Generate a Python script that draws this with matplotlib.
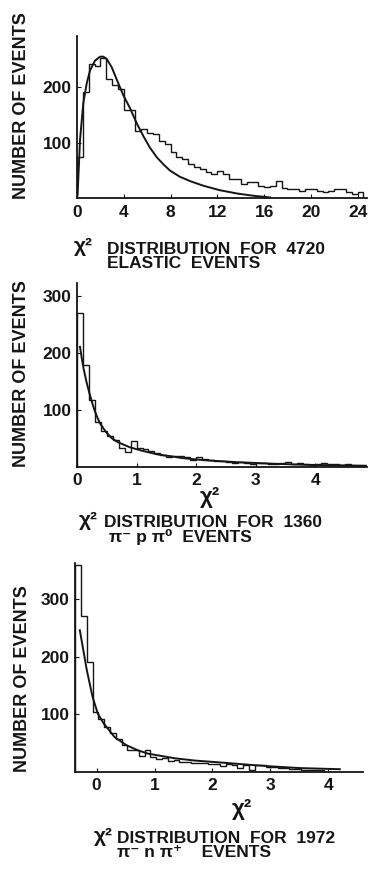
import numpy as np
import matplotlib
matplotlib.use("Agg")
import matplotlib.pyplot as plt

# --- elastic events (top), bins of 0.5 starting at 0
el_start = 0.0
el_width = 0.5
el_counts = [75, 192, 242, 238, 252, 215, 205, 198, 160, 160, 122, 125, 119, 116,
             104, 98, 84, 75, 71, 63, 57, 54, 48, 45, 51, 45, 36, 36, 27, 31, 31,
             24, 21, 24, 33, 20, 18, 18, 15, 18, 19, 15, 12, 15, 18, 18, 12, 9, 12]
el_fit_x = [0.05, 0.26, 0.54, 0.83, 1.11, 1.54, 1.97, 2.25, 2.54, 2.97, 3.54, 3.96,
            4.53, 5.1, 5.67, 6.24, 6.82, 7.4, 7.96, 8.8, 9.7, 10.8, 12.2, 13.7, 15.1, 16.5]
el_fit_y = [8, 107, 172, 207, 230, 248, 255, 255, 251, 236, 207, 186,
            163, 136, 113, 92, 75, 62, 51, 40, 32, 24, 16, 10, 6, 3]

# --- pi- p pi0 events (middle), bins of 0.1 starting at 0
pp_start = 0.0
pp_width = 0.1
pp_counts = [270, 178, 117, 78, 63, 53, 47, 32, 25, 44,
             33, 30, 27, 24, 21, 16, 19, 18, 16, 12,
             16, 13, 11, 9, 10, 8, 7, 8, 6, 5,
             6, 7, 5, 4, 7, 8, 4, 7, 4, 3,
             5, 6, 4, 5, 3, 4, 3, 2, 2]
pp_fit_x = [0.05, 0.08, 0.11, 0.16, 0.21, 0.26, 0.30, 0.35, 0.39, 0.49, 0.58, 0.68,
            0.88, 1.08, 1.36, 1.58, 1.75, 2.14, 2.70, 3.26, 3.82, 4.4, 4.85]
pp_fit_y = [210, 190, 172, 148, 128, 110, 97, 84, 75, 60, 50, 43,
            34, 28, 21, 18, 15, 11, 7.5, 5, 3, 2, 1]

# --- pi- n pi+ events (bottom), bins of 0.1 starting at -0.37
pn_start = -0.37
pn_width = 0.1
pn_counts = [360, 270, 190, 104, 91, 78, 67, 57, 46, 38, 37, 27, 38, 26, 22, 24, 19,
             20, 17, 16, 15, 15, 14, 13, 13, 9, 13, 12, 6, 11, 3, 12, 11,
             8, 8, 6, 6, 5, 4, 3, 2, 3, 2]
pn_fit_x = [-0.29, -0.22, -0.17, -0.07, 0.02, 0.12, 0.31, 0.51, 0.71, 0.89,
            1.18, 1.35, 1.7, 2.1, 2.6, 3.0, 3.5, 4.2]
pn_fit_y = [246, 206, 177, 130, 101, 84, 60, 46, 37, 31,
            26, 23, 19, 16, 12, 9, 6, 4]

W, H = 369, 869
ink = "#151515"

plt.rcParams['font.family'] = ['Liberation Sans', 'DejaVu Sans']
plt.rcParams['font.weight'] = 'bold'

fig = plt.figure(figsize=(W / 100, H / 100), dpi=100)
fig.patch.set_facecolor('white')


def box(left, top, right, bottom):
    return [left / W, 1 - bottom / H, (right - left) / W, (bottom - top) / H]


def panel(rect, counts, start, width, fit_x, fit_y, xlim, ylim, xticks, yticks):
    ax = fig.add_axes(rect)
    edges = start + width * np.arange(len(counts) + 1)
    ax.stairs(counts, edges, color=ink, lw=1.0)
    ax.plot(fit_x, fit_y, color=ink, lw=1.4)
    ax.set_xlim(*xlim)
    ax.set_ylim(*ylim)
    for s in ['top', 'right']:
        ax.spines[s].set_visible(False)
    for s in ['left', 'bottom']:
        ax.spines[s].set_linewidth(1.3)
        ax.spines[s].set_color(ink)
    ax.set_xticks(xticks)
    ax.set_yticks(yticks)
    ax.tick_params(direction='in', length=3, width=0.8, colors=ink, labelsize=12.5)
    ax.tick_params(axis='x', pad=5)
    ax.tick_params(axis='y', pad=4)
    ax.set_facecolor('none')
    return ax


def txt(x, y, s, size=12.5, rot=0, ha='left', va='baseline', ls=0.92):
    fig.text(x / W, 1 - y / H, s, fontsize=size, rotation=rot, ha=ha, va=va,
             weight='bold', color=ink, linespacing=ls)


# top panel
panel(box(77, 36, 367, 198), el_counts, el_start, el_width, el_fit_x, el_fit_y,
      (0, 24.8), (2, 292), [0, 4, 8, 12, 16, 20, 24], [100, 200])
txt(22, 106, "NUMBER OF EVENTS", size=13, rot=90, ha='center', va='center')
txt(74, 252, "χ²", size=15)
txt(107, 268, "DISTRIBUTION  FOR  4720\nELASTIC  EVENTS")

# middle panel
panel(box(77, 283, 367, 466.5), pp_counts, pp_start, pp_width, pp_fit_x, pp_fit_y,
      (0, 4.87), (0, 322), [0, 1, 2, 3, 4], [100, 200, 300])
txt(22, 374, "NUMBER OF EVENTS", size=13, rot=90, ha='center', va='center')
txt(210, 503, "χ²", size=16, ha='center')
txt(79, 526, "χ²", size=15)
txt(104, 542, "DISTRIBUTION  FOR  1360\n π⁻ p π⁰  EVENTS")

# bottom panel
panel(box(75, 563, 363, 771.5), pn_counts, pn_start, pn_width, pn_fit_x, pn_fit_y,
      (-0.373, 4.6), (0, 363), [0, 1, 2, 3, 4], [100, 200, 300])
txt(23, 679, "NUMBER OF EVENTS", size=13, rot=90, ha='center', va='center')
txt(242, 815, "χ²", size=16, ha='center')
txt(94, 842, "χ²", size=15)
txt(117, 857, "DISTRIBUTION  FOR  1972\nπ⁻ n π⁺    EVENTS")

fig.savefig("out.png", dpi=100, facecolor='white')
